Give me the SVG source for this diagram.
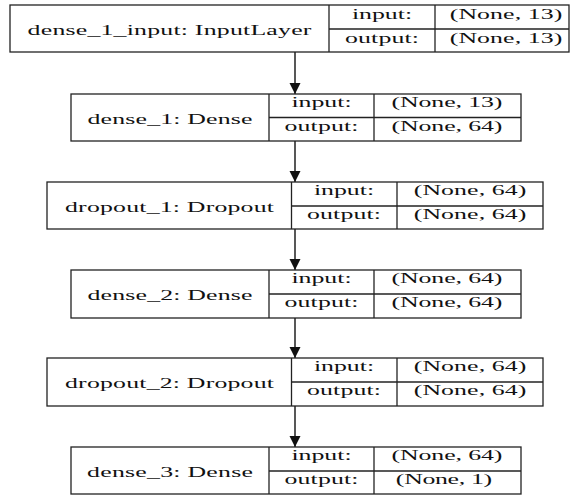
<svg xmlns="http://www.w3.org/2000/svg" width="575" height="496" viewBox="0 0 575 496">
<style>
.box{fill:#fff;stroke:#222;stroke-width:1.3}
.ln{stroke:#222;stroke-width:1.3;fill:none}
text{font-family:"Liberation Serif","Times New Roman",serif;font-size:15px;fill:#111;text-anchor:middle}
.edge{stroke:#111;stroke-width:1.4;fill:none;marker-end:url(#ah)}
</style>
<defs>
<marker id="ah" markerUnits="userSpaceOnUse" markerWidth="11" markerHeight="12" refX="11" refY="5.5" orient="auto">
<path d="M0,0 L11,5.5 L0,11 z" fill="#111"/>
</marker>
</defs>
<rect width="575" height="496" fill="#fff"/>
<g id="connectors">
<line class="edge" x1="295" y1="52" x2="295" y2="94"/>
<line class="edge" x1="295" y1="141" x2="295" y2="182"/>
<line class="edge" x1="295" y1="229" x2="295" y2="270"/>
<line class="edge" x1="295" y1="318" x2="295" y2="358"/>
<line class="edge" x1="295" y1="406" x2="295" y2="447"/>
</g>
<g id="dense_1_input">
<rect class="box" x="10" y="5" width="559" height="47"/>
<line class="ln" x1="329" y1="5" x2="329" y2="52"/>
<line class="ln" x1="435" y1="5" x2="435" y2="52"/>
<line class="ln" x1="329" y1="29" x2="569" y2="29"/>
<text transform="translate(169.5,34.5) scale(1.72,1)" textLength="165" lengthAdjust="spacing">dense_1_input: InputLayer</text>
<text transform="translate(382,18.5) scale(1.72,1)" textLength="35" lengthAdjust="spacing">input:</text>
<text transform="translate(382,42.5) scale(1.72,1)" textLength="43" lengthAdjust="spacing">output:</text>
<text transform="translate(506,18.5) scale(1.72,1)" textLength="65.5" lengthAdjust="spacing">(None, 13)</text>
<text transform="translate(506,42.5) scale(1.72,1)" textLength="65.5" lengthAdjust="spacing">(None, 13)</text>
</g>
<g id="dense_1">
<rect class="box" x="71" y="94" width="450" height="47"/>
<line class="ln" x1="269" y1="94" x2="269" y2="141"/>
<line class="ln" x1="374" y1="94" x2="374" y2="141"/>
<line class="ln" x1="269" y1="117.5" x2="521" y2="117.5"/>
<text transform="translate(170,123.5) scale(1.72,1)" textLength="96" lengthAdjust="spacing">dense_1: Dense</text>
<text transform="translate(321.5,107.3) scale(1.72,1)" textLength="35" lengthAdjust="spacing">input:</text>
<text transform="translate(321.5,131) scale(1.72,1)" textLength="43" lengthAdjust="spacing">output:</text>
<text transform="translate(447,107.3) scale(1.72,1)" textLength="64.5" lengthAdjust="spacing">(None, 13)</text>
<text transform="translate(447,131) scale(1.72,1)" textLength="64.5" lengthAdjust="spacing">(None, 64)</text>
</g>
<g id="dropout_1">
<rect class="box" x="47" y="182" width="496" height="47"/>
<line class="ln" x1="291.5" y1="182" x2="291.5" y2="229"/>
<line class="ln" x1="397" y1="182" x2="397" y2="229"/>
<line class="ln" x1="291.5" y1="206" x2="543" y2="206"/>
<text transform="translate(169.5,211.5) scale(1.72,1)" textLength="121.5" lengthAdjust="spacing">dropout_1: Dropout</text>
<text transform="translate(344,195.3) scale(1.72,1)" textLength="35" lengthAdjust="spacing">input:</text>
<text transform="translate(344,219.3) scale(1.72,1)" textLength="43" lengthAdjust="spacing">output:</text>
<text transform="translate(470,195.3) scale(1.72,1)" textLength="65.5" lengthAdjust="spacing">(None, 64)</text>
<text transform="translate(470,219.3) scale(1.72,1)" textLength="65.5" lengthAdjust="spacing">(None, 64)</text>
</g>
<g id="dense_2">
<rect class="box" x="71" y="270" width="450" height="48"/>
<line class="ln" x1="269" y1="270" x2="269" y2="318"/>
<line class="ln" x1="374" y1="270" x2="374" y2="318"/>
<line class="ln" x1="269" y1="294" x2="521" y2="294"/>
<text transform="translate(170,300) scale(1.72,1)" textLength="96" lengthAdjust="spacing">dense_2: Dense</text>
<text transform="translate(321.5,283.3) scale(1.72,1)" textLength="35" lengthAdjust="spacing">input:</text>
<text transform="translate(321.5,307.3) scale(1.72,1)" textLength="43" lengthAdjust="spacing">output:</text>
<text transform="translate(447,283.3) scale(1.72,1)" textLength="64.5" lengthAdjust="spacing">(None, 64)</text>
<text transform="translate(447,307.3) scale(1.72,1)" textLength="64.5" lengthAdjust="spacing">(None, 64)</text>
</g>
<g id="dropout_2">
<rect class="box" x="47" y="358" width="496" height="48"/>
<line class="ln" x1="291.5" y1="358" x2="291.5" y2="406"/>
<line class="ln" x1="397" y1="358" x2="397" y2="406"/>
<line class="ln" x1="291.5" y1="382" x2="543" y2="382"/>
<text transform="translate(169.5,388) scale(1.72,1)" textLength="121.5" lengthAdjust="spacing">dropout_2: Dropout</text>
<text transform="translate(344,371.3) scale(1.72,1)" textLength="35" lengthAdjust="spacing">input:</text>
<text transform="translate(344,395.3) scale(1.72,1)" textLength="43" lengthAdjust="spacing">output:</text>
<text transform="translate(470,371.3) scale(1.72,1)" textLength="65.5" lengthAdjust="spacing">(None, 64)</text>
<text transform="translate(470,395.3) scale(1.72,1)" textLength="65.5" lengthAdjust="spacing">(None, 64)</text>
</g>
<g id="dense_3">
<rect class="box" x="71" y="447" width="450" height="47"/>
<line class="ln" x1="269" y1="447" x2="269" y2="494"/>
<line class="ln" x1="374" y1="447" x2="374" y2="494"/>
<line class="ln" x1="269" y1="471" x2="521" y2="471"/>
<text transform="translate(170,476.5) scale(1.72,1)" textLength="96.5" lengthAdjust="spacing">dense_3: Dense</text>
<text transform="translate(321.5,460.3) scale(1.72,1)" textLength="35" lengthAdjust="spacing">input:</text>
<text transform="translate(321.5,484.3) scale(1.72,1)" textLength="43" lengthAdjust="spacing">output:</text>
<text transform="translate(447,460.3) scale(1.72,1)" textLength="64.5" lengthAdjust="spacing">(None, 64)</text>
<text transform="translate(444,484.3) scale(1.72,1)" textLength="56" lengthAdjust="spacing">(None, 1)</text>
</g>
</svg>
